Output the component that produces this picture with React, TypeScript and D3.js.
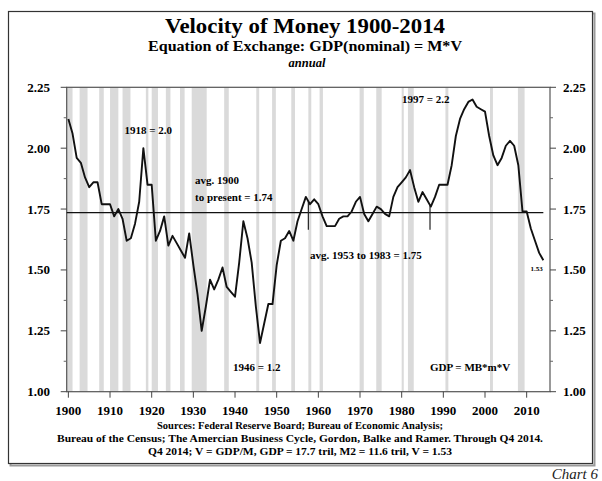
import React from 'react';
import * as d3 from 'd3';

const startYear = 1900;
const velocity = [
  2.12, 2.06, 1.96, 1.94, 1.88, 1.84, 1.86, 1.86, 1.77, 1.77,
  1.77, 1.72, 1.75, 1.71, 1.62, 1.63, 1.69, 1.78, 2.00, 1.85,
  1.85, 1.62, 1.66, 1.72, 1.60, 1.64, 1.61, 1.58, 1.55, 1.65,
  1.52, 1.40, 1.25, 1.35, 1.46, 1.42, 1.46, 1.51, 1.43, 1.41,
  1.39, 1.53, 1.70, 1.63, 1.53, 1.35, 1.20, 1.28, 1.36, 1.36,
  1.52, 1.62, 1.63, 1.66, 1.62, 1.70, 1.75, 1.80, 1.77, 1.79,
  1.77, 1.72, 1.68, 1.68, 1.68, 1.71, 1.72, 1.72, 1.74, 1.78,
  1.80, 1.73, 1.70, 1.73, 1.76, 1.75, 1.73, 1.72, 1.80, 1.84,
  1.86, 1.88, 1.91, 1.84, 1.78, 1.82, 1.79, 1.76, 1.80, 1.85,
  1.85, 1.85, 1.93, 2.05, 2.12, 2.16, 2.19, 2.20, 2.17, 2.16,
  2.15, 2.05, 1.97, 1.93, 1.96, 2.01, 2.03, 2.01, 1.93, 1.74,
  1.74, 1.67, 1.62, 1.57, 1.54,
];
const years = velocity.map((_, i) => startYear + i);

const recessions: [number, number][] = [
  [1899.6, 1901.0], [1902.7, 1904.6], [1907.4, 1908.5], [1910.0, 1912.0],
  [1913.0, 1914.9], [1918.6, 1919.2], [1920.0, 1921.5], [1923.4, 1924.5],
  [1926.8, 1927.9], [1929.6, 1933.2], [1937.4, 1938.5], [1945.1, 1945.8],
  [1948.9, 1949.8], [1953.5, 1954.4], [1957.6, 1958.3], [1960.3, 1961.1],
  [1969.9, 1970.9], [1973.9, 1975.2], [1980.0, 1980.5], [1981.5, 1982.9],
  [1990.5, 1991.2], [2001.2, 2001.9], [2007.9, 2009.5],
];

const average = 1.735;
const markerYears = [1957.6, 1986.8];
const markerBottom = 1.665;

const xTicks = [1900, 1910, 1920, 1930, 1940, 1950, 1960, 1970, 1980, 1990, 2000, 2010];
const yTicks = [1.0, 1.25, 1.5, 1.75, 2.0, 2.25];
const yMinorTicks = [1.125, 1.375, 1.625, 1.875, 2.125];

const annotations = [
  { text: '1918 = 2.0', year: 1919.2, value: 2.058, anchor: 'middle', size: 11 },
  { text: 'avg. 1900', year: 1930.4, value: 1.853, anchor: 'start', size: 11 },
  { text: 'to present = 1.74', year: 1930.4, value: 1.783, anchor: 'start', size: 11 },
  { text: '1997 = 2.2', year: 1980.1, value: 2.186, anchor: 'start', size: 11 },
  { text: 'avg. 1953 to 1983 = 1.75', year: 1958.0, value: 1.545, anchor: 'start', size: 11 },
  { text: '1946 = 1.2', year: 1939.5, value: 1.085, anchor: 'start', size: 11 },
  { text: '1.53', year: 2010.9, value: 1.496, anchor: 'start', size: 7 },
  { text: 'GDP = MB*m*V', year: 1986.8, value: 1.085, anchor: 'start', size: 11 },
];

const sources = [
  'Sources: Federal Reserve Board; Bureau of Economic Analysis;',
  'Bureau of the Census; The Amercian Business Cycle, Gordon, Balke and Ramer. Through Q4 2014.',
  'Q4 2014; V = GDP/M, GDP = 17.7 tril, M2 = 11.6 tril, V = 1.53',
];
const sourceWidths = [286, 486, 304];

const W = 602;
const H = 481;
const plot = { left: 66.7, right: 550, top: 87.3, bottom: 391.7 };
const font = '"Liberation Serif", "Times New Roman", serif';

export default function App() {
  const x = d3.scaleLinear().domain([1899.6, 2015.6]).range([plot.left, plot.right]);
  const y = d3.scaleLinear().domain([1.0, 2.25]).range([plot.bottom, plot.top]);
  const line = d3
    .line<number>()
    .x((_, i) => x(years[i]))
    .y((d) => y(d));
  const idx = (yr: number) => {
    const i = Math.floor(yr - startYear);
    const t = yr - startYear - i;
    return velocity[i] * (1 - t) + velocity[Math.min(i + 1, velocity.length - 1)] * t;
  };

  return (
    <svg width={W} height={H} style={{ position: 'absolute', left: 0, top: 0, background: '#fff' }} fontFamily={font}>
      <rect x={0} y={0} width={W} height={H} fill="#fff" />
      {/* frame with shadow */}
      <rect x={10.5} y={13.5} width={584} height={452} fill="none" stroke="#9a9a9a" strokeWidth={2} />
      <rect x={8.5} y={11.5} width={584} height={452} fill="#fff" stroke="#333" strokeWidth={1.2} />

      {/* recessions */}
      {recessions.map(([a, b], i) => (
        <rect key={i} x={x(Math.max(a, 1899.6))} y={plot.top} width={x(b) - x(Math.max(a, 1899.6))}
          height={plot.bottom - plot.top} fill="#dadada" />
      ))}

      {/* titles */}
      <text x={305} y={33} textAnchor="middle" fontWeight="bold" fontSize={22} textLength={280} lengthAdjust="spacingAndGlyphs">Velocity of Money 1900-2014</text>
      <text x={305} y={51} textAnchor="middle" fontWeight="bold" fontSize={14.5} textLength={314} lengthAdjust="spacingAndGlyphs">Equation of Exchange: GDP(nominal) = M*V</text>
      <text x={307} y={67} textAnchor="middle" fontWeight="bold" fontStyle="italic" fontSize={12.5}>annual</text>

      {/* plot box */}
      <rect x={plot.left} y={plot.top} width={plot.right - plot.left} height={plot.bottom - plot.top}
        fill="none" stroke="#555" strokeWidth={1.2} />

      {/* y ticks */}
      {yTicks.map((t) => (
        <g key={t}>
          <line x1={plot.left - 6} x2={plot.left} y1={y(t)} y2={y(t)} stroke="#444" />
          <line x1={plot.right} x2={plot.right + 6} y1={y(t)} y2={y(t)} stroke="#444" />
          <text x={50} y={y(t) + 4.5} textAnchor="end" fontWeight="bold" fontSize={13}>{t.toFixed(2)}</text>
          <text x={563} y={y(t) + 4.5} textAnchor="start" fontWeight="bold" fontSize={13}>{t.toFixed(2)}</text>
        </g>
      ))}
      {yMinorTicks.map((t) => (
        <g key={t}>
          <line x1={plot.left - 3} x2={plot.left} y1={y(t)} y2={y(t)} stroke="#666" />
          <line x1={plot.right} x2={plot.right + 3} y1={y(t)} y2={y(t)} stroke="#666" />
        </g>
      ))}

      {/* x ticks */}
      {xTicks.map((t) => (
        <g key={t}>
          <line x1={x(t)} x2={x(t)} y1={plot.bottom} y2={plot.bottom + 6} stroke="#444" />
          <text x={x(t)} y={415} textAnchor="middle" fontWeight="bold" fontSize={13}>{t}</text>
        </g>
      ))}

      {/* average line */}
      <line x1={plot.left} x2={x(2014)} y1={y(average)} y2={y(average)} stroke="#111" strokeWidth={1.3} />
      {markerYears.map((m) => (
        <line key={m} x1={x(m)} x2={x(m)} y1={y(idx(m))} y2={y(markerBottom)} stroke="#222" strokeWidth={1.2} />
      ))}

      {/* data line */}
      <path d={line(velocity) || ''} fill="none" stroke="#111" strokeWidth={1.9} strokeLinejoin="round" />

      {/* annotations */}
      {annotations.map((a) => (
        <text key={a.text} x={x(a.year)} y={y(a.value)} textAnchor={a.anchor as any}
          fontWeight="bold" fontSize={a.size}>{a.text}</text>
      ))}

      {/* sources */}
      {sources.map((s, i) => (
        <text key={i} x={300} y={428.5 + i * 13} textAnchor="middle" fontWeight="bold" fontSize={9.5}
          textLength={sourceWidths[i]} lengthAdjust="spacingAndGlyphs">{s}</text>
      ))}

      <text x={598} y={479} textAnchor="end" fontStyle="italic" fontSize={15} fill="#222">Chart 6</text>
    </svg>
  );
}
